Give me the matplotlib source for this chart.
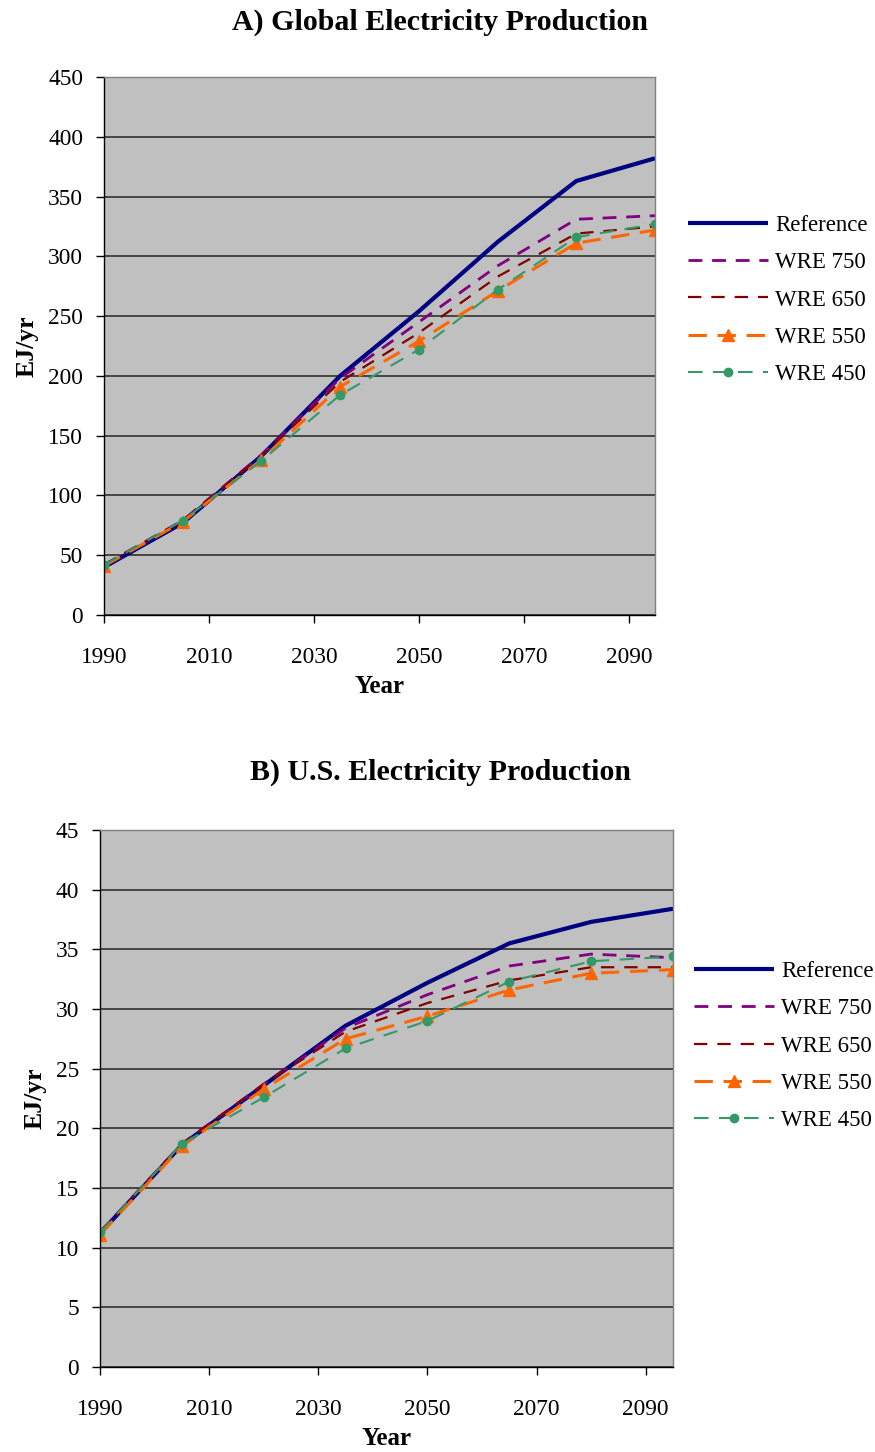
import matplotlib
matplotlib.use("Agg")
import matplotlib.pyplot as plt

plt.rcParams['font.family'] = ['Liberation Serif', 'DejaVu Serif']

years = [1990, 2005, 2020, 2035, 2050, 2065, 2080, 2095]
series_names = ["Reference", "WRE 750", "WRE 650", "WRE 550", "WRE 450"]

# Global electricity production, EJ/yr
global_reference = [40, 77, 133, 200, 254, 312, 363, 382]
global_wre750 = [42, 79, 134, 198, 245, 292, 331, 334]
global_wre650 = [42, 79, 133, 195, 236, 283, 319, 325]
global_wre550 = [41, 78, 130, 191, 229, 271, 311, 322]
global_wre450 = [42, 79, 129, 184, 222, 272, 316, 327]

# U.S. electricity production, EJ/yr
us_reference = [11.2, 18.6, 23.6, 28.6, 32.2, 35.5, 37.3, 38.4]
us_wre750 = [11.3, 18.7, 23.7, 28.4, 31.2, 33.6, 34.6, 34.3]
us_wre650 = [11.3, 18.7, 23.7, 28.1, 30.5, 32.4, 33.5, 33.5]
us_wre550 = [11.1, 18.5, 23.3, 27.5, 29.4, 31.6, 33.0, 33.3]
us_wre450 = [11.3, 18.7, 22.6, 26.7, 29.0, 32.3, 34.0, 34.4]

x_ticks = [1990, 2010, 2030, 2050, 2070, 2090]
global_yticks = list(range(0, 451, 50))
us_yticks = list(range(0, 46, 5))

styles = [
    dict(color="#000080", lw=3.0, ls="-"),
    dict(color="#800080", lw=2.0, ls=(0, (5, 3.5))),
    dict(color="#800000", lw=1.6, ls=(0, (6, 4.5))),
    dict(color="#FF6600", lw=2.2, ls=(0, (6, 3.5)), marker="^", ms=8, mec="#FF6600"),
    dict(color="#339966", lw=1.5, ls=(0, (7, 5)), marker="o", ms=6, mec="#339966"),
]

W, H = 875, 1452
fig = plt.figure(figsize=(W / 100, H / 100), dpi=100)


def draw_panel(rect, data, yticks, ylim, title, title_y, legend_anchor):
    ax = fig.add_axes(rect)
    ax.set_facecolor("#C0C0C0")
    handles = []
    for name, vals, st in zip(series_names, data, styles):
        h, = ax.plot(years, vals, label=name, solid_capstyle="butt",
                     dash_capstyle="butt", **st)
        handles.append(h)
    ax.set_xlim(1990, 2095)
    ax.set_ylim(*ylim)
    ax.set_xticks(x_ticks)
    ax.set_yticks(yticks)
    ax.yaxis.grid(True, color="#3c3c3c", lw=1.3)
    ax.set_axisbelow(True)
    ax.tick_params(axis="both", labelsize=16.8, direction="out", length=6,
                   width=1.0, color="black")
    ax.tick_params(axis="x", pad=17)
    ax.tick_params(axis="y", pad=9)
    for side in ("left", "bottom"):
        ax.spines[side].set_color("black")
        ax.spines[side].set_linewidth(1.0)
    for side in ("top", "right"):
        ax.spines[side].set_color("#808080")
        ax.spines[side].set_linewidth(1.0)
    ax.set_xlabel("Year", fontsize=18, fontweight="bold", labelpad=5)
    ax.set_ylabel("EJ/yr", fontsize=18.5, fontweight="bold", labelpad=7)
    fig.text(440 / W, 1 - title_y / H, title, fontsize=21.5, fontweight="bold",
             ha="center", va="center")
    fig.legend(handles=handles, loc="center left", bbox_to_anchor=legend_anchor,
               frameon=False, fontsize=16.5, handlelength=3.5,
               handletextpad=0.3, labelspacing=0.71, borderpad=0,
               borderaxespad=0)
    return ax


draw_panel([104 / W, 1 - 615 / H, 551 / W, 538 / H],
           [global_reference, global_wre750, global_wre650, global_wre550, global_wre450],
           global_yticks, (0, 450), "A) Global Electricity Production", 22,
           (688 / W, 1 - 300 / H))

draw_panel([100 / W, 1 - 1367 / H, 573 / W, 537 / H],
           [us_reference, us_wre750, us_wre650, us_wre550, us_wre450],
           us_yticks, (0, 45), "B) U.S. Electricity Production", 772,
           (694 / W, 1 - 1046 / H))

fig.savefig("out.png", dpi=100)
